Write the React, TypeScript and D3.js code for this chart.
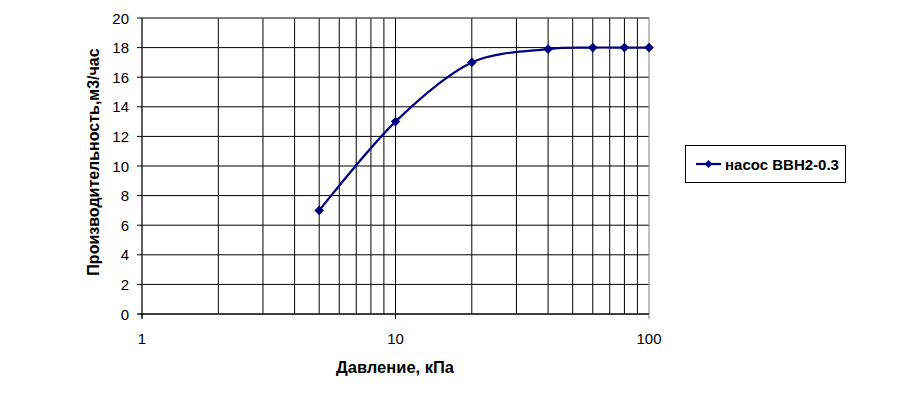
import React from "react";
import * as d3 from "d3";

const pressure = [5, 10, 20, 40, 60, 80, 100];
const capacity = [7, 13, 17, 17.9, 18, 18, 18];
const yTicks = [0, 2, 4, 6, 8, 10, 12, 14, 16, 18, 20];
const xTickLabels = [1, 10, 100];
const minorGrid = [2, 3, 4, 5, 6, 7, 8, 9, 10, 20, 30, 40, 50, 60, 70, 80, 90];
const seriesName = "насос ВВН2-0.3";
const xTitle = "Давление, кПа";
const yTitle = "Производительность,м3/час";

export default function App() {
  const W = 900, H = 397;
  const L = 142, R = 649, T = 18, B = 314;
  const x = d3.scaleLog().domain([1, 100]).range([L, R]);
  const y = d3.scaleLinear().domain([0, 20]).range([B, T]);
  const line = d3
    .line<number>()
    .x((_, i) => x(pressure[i]))
    .y((d) => y(d))
    .curve(d3.curveCardinal.tension(0.1));
  const font = "Arial, 'Liberation Sans', sans-serif";
  const diamond = (cx: number, cy: number, s = 4.8) =>
    `M${cx},${cy - s}L${cx + s},${cy}L${cx},${cy + s}L${cx - s},${cy}Z`;
  return (
    <svg width={W} height={H} style={{ position: "absolute", left: 0, top: 0 }}>
      <rect width={W} height={H} fill="#fff" />
      {yTicks.map((t) => (
        <line key={"h" + t} x1={L} x2={R} y1={y(t)} y2={y(t)} stroke="#000" strokeWidth={1} />
      ))}
      {minorGrid.map((t) => (
        <line key={"v" + t} x1={x(t)} x2={x(t)} y1={T} y2={B} stroke="#000" strokeWidth={1} />
      ))}
      <rect x={L} y={T} width={R - L} height={B - T} fill="none" stroke="#808080" strokeWidth={1} />
      <line x1={L} x2={L} y1={T} y2={B + 4} stroke="#000" />
      <line x1={L - 4} x2={R} y1={B} y2={B} stroke="#000" />
      {yTicks.map((t) => (
        <g key={"yt" + t}>
          <line x1={L - 5} x2={L} y1={y(t)} y2={y(t)} stroke="#000" />
          <text x={L - 13} y={y(t) + 5.5} textAnchor="end" fontFamily={font} fontSize={15}>
            {t}
          </text>
        </g>
      ))}
      {xTickLabels.map((t) => (
        <g key={"xt" + t}>
          <line x1={x(t)} x2={x(t)} y1={B} y2={B + 5} stroke={t === 100 ? "#808080" : "#000"} />
          <text x={x(t)} y={344} textAnchor="middle" fontFamily={font} fontSize={15}>
            {t}
          </text>
        </g>
      ))}
      <path d={line(capacity) || ""} fill="none" stroke="#000080" strokeWidth={2.2} />
      {capacity.map((v, i) => (
        <path key={"m" + i} d={diamond(x(pressure[i]), y(v))} fill="#000080" />
      ))}
      <text x={395} y={373} textAnchor="middle" fontFamily={font} fontSize={16.5} fontWeight="bold">
        {xTitle}
      </text>
      <text
        transform={`translate(99,162) rotate(-90)`}
        textAnchor="middle"
        fontFamily={font}
        fontSize={16}
        fontWeight="bold"
      >
        {yTitle}
      </text>
      <rect x={685.5} y={145.5} width={160} height={37} fill="#fff" stroke="#000" strokeWidth={1} />
      <line x1={696} x2={721} y1={164} y2={164} stroke="#000080" strokeWidth={2.2} />
      <path d={diamond(708.5, 164, 4)} fill="#000080" />
      <text x={725} y={169.5} fontFamily={font} fontSize={15} fontWeight="bold">
        {seriesName}
      </text>
    </svg>
  );
}
